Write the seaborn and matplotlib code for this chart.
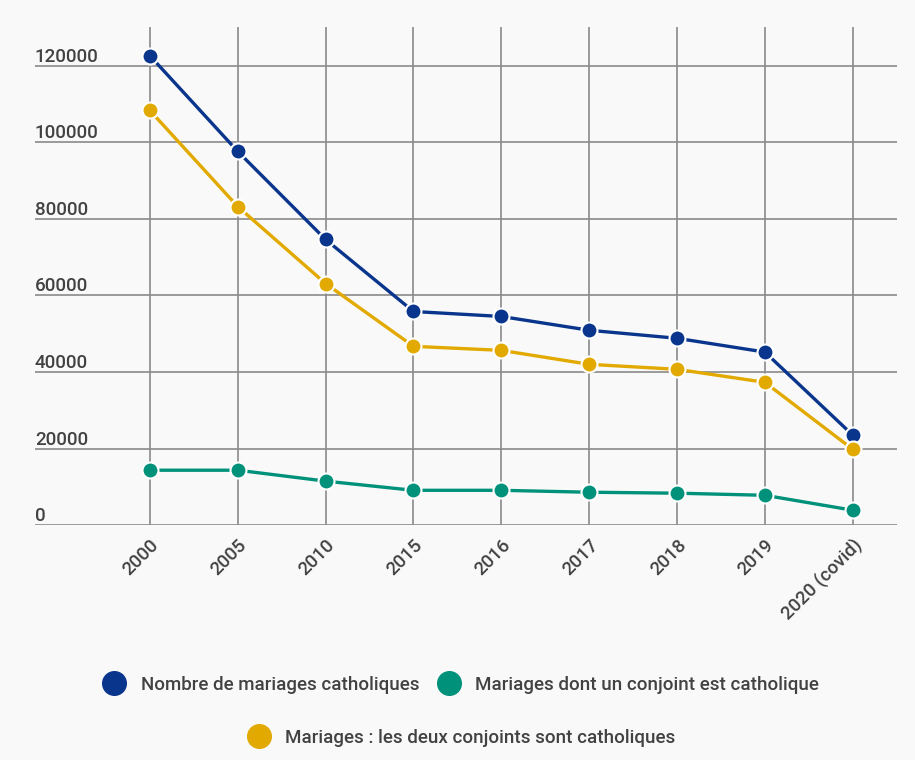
import numpy as np
import pandas as pd
import matplotlib.pyplot as plt
import seaborn as sns
from matplotlib.lines import Line2D

years = ["2000", "2005", "2010", "2015", "2016", "2017", "2018", "2019", "2020 (covid)"]
total = [122600, 97600, 74600, 55800, 54500, 50900, 48800, 45200, 23500]
one_catholic = [14350, 14350, 11500, 9100, 9100, 8600, 8350, 7800, 3900]
both_catholic = [108300, 83200, 63100, 46700, 45650, 42000, 40700, 37300, 19800]

series_names = [
    "Nombre de mariages catholiques",
    "Mariages dont un conjoint est catholique",
    "Mariages : les deux conjoints sont catholiques",
]
colors = ["#0a358c", "#00917a", "#e2aa00"]

df = pd.concat([
    pd.DataFrame({"pos": range(len(years)), "value": vals, "serie": name})
    for name, vals in zip(series_names, [total, one_catholic, both_catholic])
])

sns.set_theme(style="white")
plt.rcParams["font.family"] = ["Roboto", "DejaVu Sans"]
plt.rcParams["font.weight"] = "medium"
BG = "#f9f9f9"
TXT = "#424242"

fig = plt.figure(figsize=(9.15, 7.6), dpi=100, facecolor=BG)
ax = fig.add_axes([0.038, 0.309, 0.942, 0.655], facecolor=BG)

sns.lineplot(data=df, x="pos", y="value", hue="serie", palette=colors,
             marker="o", markersize=11.5, markeredgecolor="white", markeredgewidth=1.5,
             linewidth=2.4, legend=False, ax=ax, zorder=3)

ax.set_xlim(-1.31, 8.5)
ax.set_ylim(0, 130000)
ax.set_xticks(range(len(years)))
ax.set_xticklabels(years, rotation=45, ha="right", rotation_mode="anchor",
                   fontsize=13.5, color=TXT)
ax.tick_params(axis="x", length=0, pad=8)

yt = [0, 20000, 40000, 60000, 80000, 100000, 120000]
ax.set_yticks(yt)
ax.set_yticklabels([str(v) for v in yt], ha="left", va="bottom", fontsize=13.5, color=TXT)
ax.tick_params(axis="y", length=0, pad=0)

ax.grid(True, color="#8a8a8a", linewidth=1.2)
ax.set_axisbelow(True)
for s in ax.spines.values():
    s.set_visible(False)
ax.set_xlabel("")
ax.set_ylabel("")

def handle(c):
    return Line2D([], [], linestyle="none", marker="o", markersize=17,
                  markerfacecolor=c, markeredgecolor=c)

fig.legend([handle(colors[0]), handle(colors[1])], series_names[:2],
           loc="center", bbox_to_anchor=(0.5, 1 - 685 / 760), ncol=2,
           frameon=False, fontsize=13.5, handletextpad=0.4, columnspacing=0.6,
           labelcolor=TXT)
fig.legend([handle(colors[2])], series_names[2:],
           loc="center", bbox_to_anchor=(0.5, 1 - 738 / 760), ncol=1,
           frameon=False, fontsize=13.5, handletextpad=0.4, labelcolor=TXT)

fig.savefig("out.png", dpi=100, facecolor=BG)
